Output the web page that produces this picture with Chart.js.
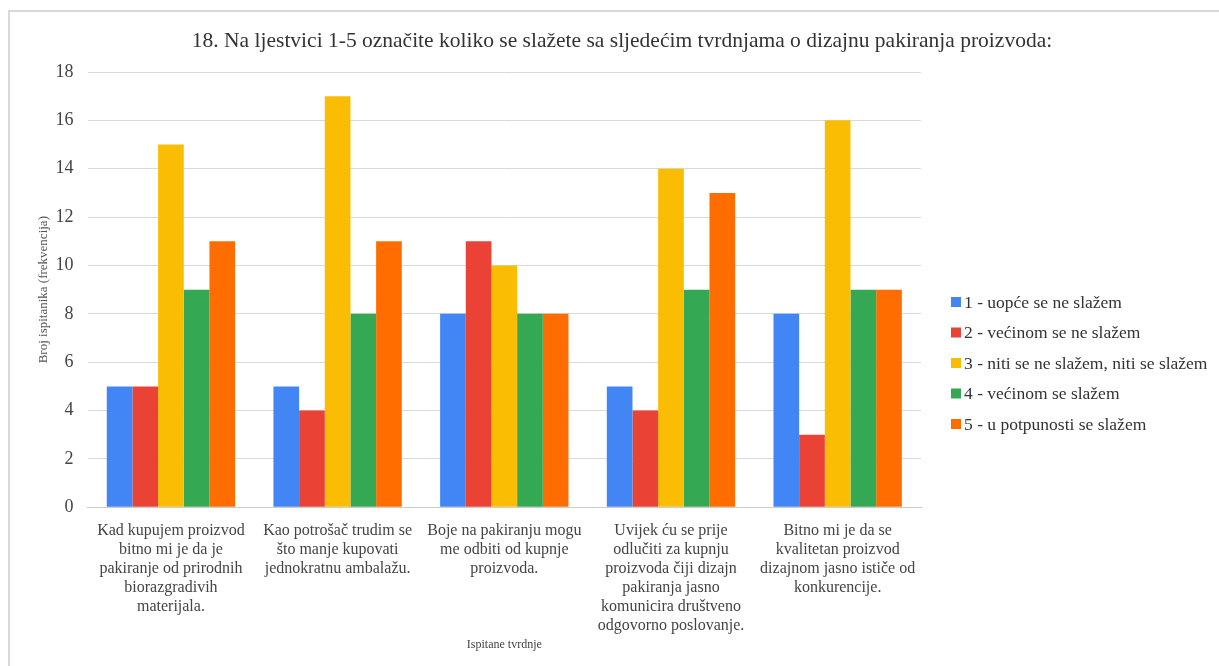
<!DOCTYPE html>
<html><head><meta charset="utf-8">
<script src="https://cdn.jsdelivr.net/npm/chart.js@4"></script>
<style>
html,body{margin:0;padding:0;background:#fff;}
#wrap{position:absolute;left:0;top:0;width:1219px;height:666px;}
#frame{position:absolute;left:8px;top:10px;width:1300px;height:700px;border-left:2px solid #d9d9d9;border-top:2px solid #d9d9d9;pointer-events:none;}
</style></head>
<body>
<div id="wrap"><canvas id="c" width="1219" height="666"></canvas><div id="frame"></div></div>
<script>
const categories = [
  ["Kad kupujem proizvod","bitno mi je da je","pakiranje od prirodnih","biorazgradivih","materijala."],
  ["Kao potrošač trudim se","što manje kupovati","jednokratnu ambalažu."],
  ["Boje na pakiranju mogu","me odbiti od kupnje","proizvoda."],
  ["Uvijek ću se prije","odlučiti za kupnju","proizvoda čiji dizajn","pakiranja jasno","komunicira društveno","odgovorno poslovanje."],
  ["Bitno mi je da se","kvalitetan proizvod","dizajnom jasno ističe od","konkurencije."]
];
const seriesNames = ["1 - uopće se ne slažem","2 - većinom se ne slažem","3 - niti se ne slažem, niti se slažem","4 - većinom se slažem","5 - u potpunosti se slažem"];
const s1 = [5,5,8,5,8];
const s2 = [5,4,11,4,3];
const s3 = [15,17,10,14,16];
const s4 = [9,8,8,9,9];
const s5 = [11,11,8,13,9];
const colors = ["#4285F4","#EA4335","#FBBC04","#34A853","#FF6D01"];
const yTicks = [0,2,4,6,8,10,12,14,16,18];
const titleText = "18. Na ljestvici 1-5 označite koliko se slažete sa sljedećim tvrdnjama o dizajnu pakiranja proizvoda:";
const serif = "'Liberation Serif','Times New Roman',serif";
Chart.defaults.font.family = serif;

const seriesValues = [s1,s2,s3,s4,s5];

const customDecor = {
  id:'customDecor',
  afterDraw(chart){
    const ctx = chart.ctx;
    ctx.save();
    ctx.fillStyle = "#333";
    ctx.font = "21.5px " + serif;
    ctx.textAlign = 'center';
    ctx.textBaseline = 'middle';
    ctx.fillText(titleText, 622, 41);
    ctx.font = "17.5px " + serif;
    ctx.textBaseline = 'middle';
    ctx.textAlign = 'left';
    chart.data.datasets.forEach((ds,i)=>{
      const y = 302 + i*30.5;
      ctx.fillStyle = ds.backgroundColor;
      ctx.fillRect(951, y-5, 10, 10);
      ctx.fillStyle = "#333";
      ctx.fillText(ds.label, 964, y+1);
    });
    ctx.restore();
  }
};

new Chart(document.getElementById('c'), {
  type:'bar',
  data:{
    labels:categories,
    datasets: seriesValues.map((v,i)=>({label:seriesNames[i],data:v,backgroundColor:colors[i],borderWidth:0,categoryPercentage:0.77,barPercentage:1}))
  },
  options:{
    responsive:false,animation:false,
    layout:{padding:{left:36,right:298,top:72,bottom:14}},
    plugins:{
      title:{display:false},
      legend:{display:false},
      tooltip:{enabled:false}
    },
    scales:{
      x:{
        grid:{display:false,drawTicks:false},
        border:{display:true,color:"#cccccc",width:1},
        ticks:{color:"#444",font:{family:serif,size:16,lineHeight:1.19},maxRotation:0,autoSkip:false,padding:14},
        title:{display:true,text:"Ispitane tvrdnje",color:"#444",font:{family:serif,size:12},padding:{top:-12,bottom:0}}
      },
      y:{
        min:0,max:18,
        afterBuildTicks:(ax)=>{ax.ticks=yTicks.map(v=>({value:v}));},
        grid:{color:"#d9d9d9",drawTicks:false},
        border:{display:false},
        ticks:{color:"#444",font:{family:serif,size:18},padding:14},
        title:{display:true,text:"Broj ispitanika (frekvencija)",color:"#555",font:{family:serif,size:13},padding:{top:0,bottom:-10}}
      }
    }
  },
  plugins:[customDecor]
});
</script>
</body></html>
